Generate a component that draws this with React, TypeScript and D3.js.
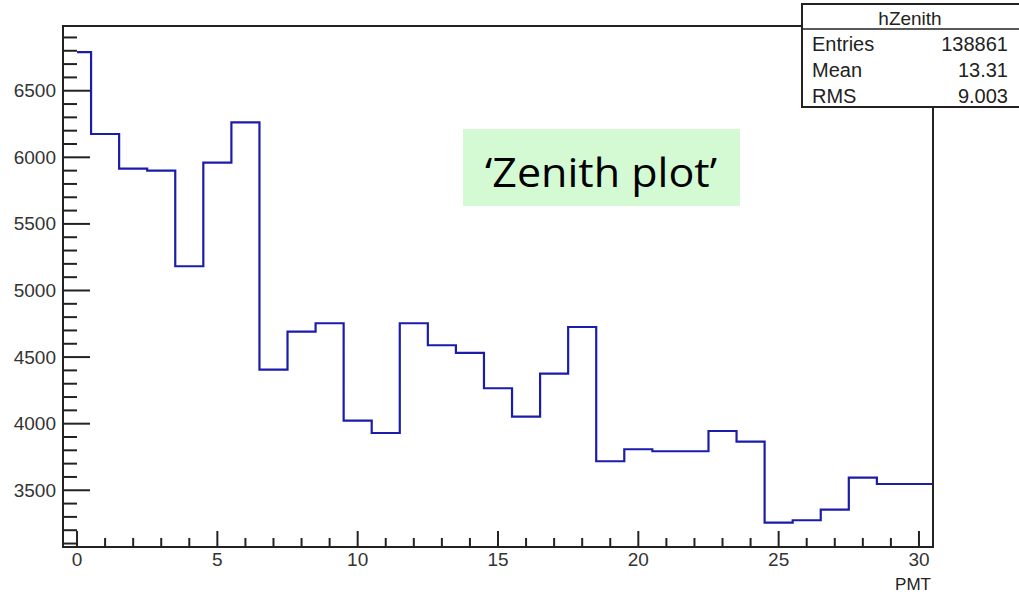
import React from 'react';
import * as d3 from 'd3';

// bin contents of hZenith, one per PMT index 0..30
const pmt = d3.range(0, 31);
const counts = [
  6790, 6175, 5915, 5900, 5182, 5960, 6263, 4406, 4691, 4754,
  4023, 3930, 4754, 4589, 4531, 4266, 4053, 4376, 4726, 3718,
  3808, 3793, 3793, 3945, 3865, 3257, 3275, 3355, 3595, 3547,
  3547,
];
const xMajor = [0, 5, 10, 15, 20, 25, 30];
const yMajor = [3500, 4000, 4500, 5000, 5500, 6000, 6500];
const statLabels = ['Entries', 'Mean', 'RMS'];
const statValues = ['138861', '13.31', '9.003'];

const W = 1019;
const H = 596;
const frame = { left: 63, right: 933, top: 26, bottom: 547 };

const App: React.FC = () => {
  const x = d3.scaleLinear().domain([-0.5, 30.5]).range([frame.left, frame.right]);
  const y = d3.scaleLinear().domain([3074, 6986]).range([frame.bottom, frame.top]);

  const xMinor = d3.range(0, 31).filter((d) => d % 5 !== 0);
  const yMinor = d3.range(3100, 7000, 100).filter((d) => d % 500 !== 0);

  // step outline, first bin clipped at 0 like the original
  const pts: [number, number][] = [];
  pmt.forEach((p, i) => {
    const lo = Math.max(p - 0.5, 0);
    const hi = p + 0.5;
    pts.push([lo, counts[i]], [hi, counts[i]]);
  });
  const line = d3
    .line<[number, number]>()
    .x((d) => x(d[0]))
    .y((d) => y(d[1]));

  const font = "'Liberation Sans', Arial, sans-serif";
  const ink = '#222';

  return (
    <svg
      width={W}
      height={H}
      style={{ position: 'absolute', left: 0, top: 0, background: '#fff' }}
    >
      <rect width={W} height={H} fill="#fff" />

      {/* histogram */}
      <path d={line(pts) || ''} fill="none" stroke="#1c1cac" strokeWidth={2.2} />

      {/* frame */}
      <rect
        x={frame.left}
        y={frame.top}
        width={frame.right - frame.left}
        height={frame.bottom - frame.top}
        fill="none"
        stroke={ink}
        strokeWidth={2}
      />

      {/* y axis ticks */}
      {yMajor.map((v) => (
        <g key={'ym' + v}>
          <line x1={frame.left} x2={frame.left + 27} y1={y(v)} y2={y(v)} stroke={ink} strokeWidth={2} />
          <text
            x={56}
            y={y(v) + 6.5}
            textAnchor="end"
            fontFamily={font}
            fontSize={19}
            fill="#333"
          >
            {v}
          </text>
        </g>
      ))}
      {yMinor.map((v) => (
        <line key={'yn' + v} x1={frame.left} x2={frame.left + 14} y1={y(v)} y2={y(v)} stroke={ink} strokeWidth={2} />
      ))}

      {/* x axis ticks */}
      {xMajor.map((v) => (
        <g key={'xm' + v}>
          <line x1={x(v)} x2={x(v)} y1={frame.bottom} y2={frame.bottom - 16} stroke={ink} strokeWidth={2} />
          <text
            x={x(v)}
            y={566}
            textAnchor="middle"
            fontFamily={font}
            fontSize={19}
            fill="#333"
          >
            {v}
          </text>
        </g>
      ))}
      {xMinor.map((v) => (
        <line key={'xn' + v} x1={x(v)} x2={x(v)} y1={frame.bottom} y2={frame.bottom - 9} stroke={ink} strokeWidth={2} />
      ))}
      <text x={931} y={590} textAnchor="end" fontFamily={font} fontSize={17} fill="#222">
        PMT
      </text>

      {/* stats box */}
      <rect x={802} y={4} width={230} height={103} fill="#fff" stroke={ink} strokeWidth={2} />
      <line x1={802} x2={1030} y1={29} y2={29} stroke={ink} strokeWidth={1.5} />
      <text x={910} y={25} textAnchor="middle" fontFamily={font} fontSize={19} fill="#222">
        hZenith
      </text>
      {statLabels.map((s, i) => (
        <g key={s}>
          <text x={812} y={51 + i * 26} fontFamily={font} fontSize={20} fill="#222">
            {s}
          </text>
          <text x={1008} y={51 + i * 26} textAnchor="end" fontFamily={font} fontSize={20} fill="#222">
            {statValues[i]}
          </text>
        </g>
      ))}

      {/* annotation label */}
      <rect x={463} y={129} width={277} height={77} fill="#d4fad4" />
      <text
        x={601}
        y={187}
        textAnchor="middle"
        fontFamily="'Open Sans', 'Noto Sans', sans-serif"
        fontSize={41}
        textLength={232}
        lengthAdjust="spacingAndGlyphs"
        fill="#000"
      >
        ‘Zenith plot’
      </text>
    </svg>
  );
};

export default App;
